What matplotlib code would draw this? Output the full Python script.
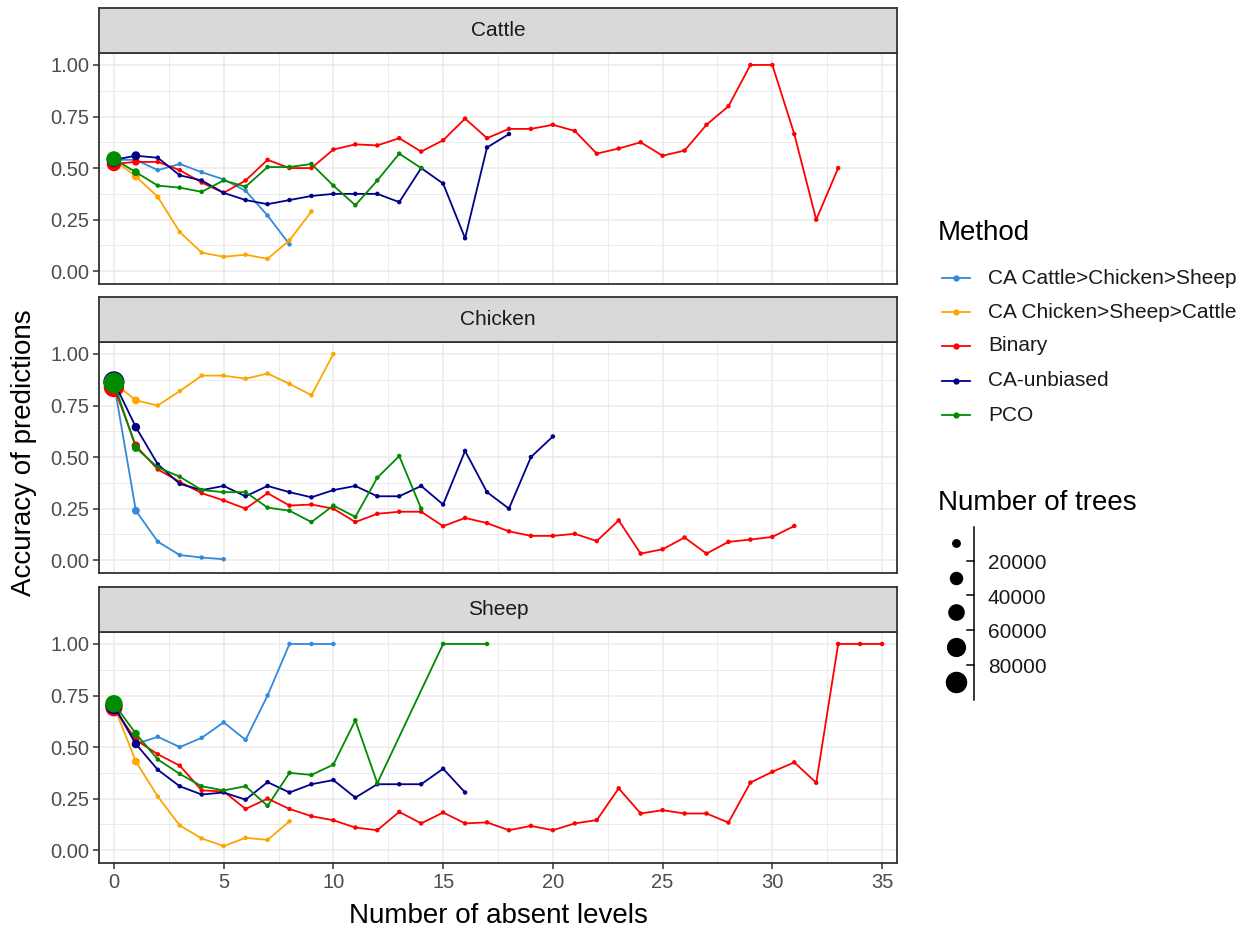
import matplotlib.pyplot as plt
from matplotlib.lines import Line2D
import numpy as np

plt.rcParams['font.family'] = ['Liberation Sans', 'DejaVu Sans']

W, H = 1247, 933

animals = ['Cattle', 'Chicken', 'Sheep']
methods = ['CA Cattle>Chicken>Sheep', 'CA Chicken>Sheep>Cattle', 'Binary', 'CA-unbiased', 'PCO']
colors = ['#3389DB', '#FFA500', '#FF0000', '#00008B', '#008B00']

# accuracy for absent levels 0, 1, 2, ...
cattle_cacs = [0.54, 0.54, 0.49, 0.52, 0.48, 0.445, 0.39, 0.27, 0.13]
cattle_cascs = [0.54, 0.46, 0.36, 0.19, 0.09, 0.07, 0.08, 0.06, 0.15, 0.29]
cattle_binary = [0.52, 0.53, 0.53, 0.49, 0.43, 0.38, 0.44, 0.54, 0.50, 0.50,
                 0.59, 0.615, 0.61, 0.645, 0.58, 0.635, 0.74, 0.645, 0.69, 0.69,
                 0.71, 0.68, 0.57, 0.595, 0.625, 0.56, 0.585, 0.71, 0.80, 1.00,
                 1.00, 0.665, 0.25, 0.50]
cattle_unbiased = [0.54, 0.56, 0.55, 0.465, 0.44, 0.38, 0.345, 0.325, 0.345, 0.365,
                   0.375, 0.375, 0.375, 0.335, 0.50, 0.425, 0.16, 0.60, 0.665]
cattle_pco = [0.545, 0.48, 0.415, 0.405, 0.385, 0.44, 0.41, 0.505, 0.505, 0.52,
              0.415, 0.32, 0.44, 0.57, 0.50]

chicken_cacs = [0.86, 0.24, 0.09, 0.025, 0.013, 0.005]
chicken_cascs = [0.86, 0.775, 0.75, 0.82, 0.895, 0.895, 0.88, 0.905, 0.855, 0.80, 1.00]
chicken_binary = [0.84, 0.555, 0.44, 0.38, 0.325, 0.29, 0.25, 0.325, 0.265, 0.27,
                  0.25, 0.185, 0.225, 0.235, 0.235, 0.165, 0.205, 0.18, 0.14, 0.118,
                  0.118, 0.128, 0.093, 0.193, 0.032, 0.053, 0.11, 0.032, 0.089, 0.10,
                  0.113, 0.166]
chicken_unbiased = [0.865, 0.645, 0.465, 0.37, 0.34, 0.36, 0.31, 0.36, 0.33, 0.305,
                    0.34, 0.36, 0.31, 0.31, 0.36, 0.27, 0.53, 0.33, 0.25, 0.50, 0.60]
chicken_pco = [0.86, 0.545, 0.45, 0.405, 0.34, 0.33, 0.33, 0.255, 0.24, 0.185,
               0.265, 0.21, 0.40, 0.505, 0.25]

sheep_cacs = [0.70, 0.515, 0.55, 0.50, 0.545, 0.62, 0.535, 0.75, 1.00, 1.00, 1.00]
sheep_cascs = [0.70, 0.43, 0.26, 0.12, 0.057, 0.02, 0.06, 0.05, 0.14]
sheep_binary = [0.69, 0.535, 0.465, 0.41, 0.29, 0.285, 0.20, 0.25, 0.20, 0.165,
                0.145, 0.11, 0.097, 0.186, 0.13, 0.183, 0.13, 0.135, 0.097, 0.118,
                0.097, 0.13, 0.146, 0.30, 0.178, 0.194, 0.178, 0.178, 0.134, 0.328,
                0.38, 0.426, 0.327, 1.00, 1.00, 1.00]
sheep_unbiased = [0.70, 0.515, 0.39, 0.31, 0.27, 0.28, 0.245, 0.33, 0.28, 0.32,
                  0.34, 0.255, 0.32, 0.32, 0.32, 0.395, 0.28]
sheep_pco_x = [0, 1, 2, 3, 4, 5, 6, 7, 8, 9, 10, 11, 12, 15, 17]
sheep_pco = [0.71, 0.565, 0.44, 0.37, 0.31, 0.29, 0.31, 0.215, 0.375, 0.365,
             0.415, 0.63, 0.325, 1.00, 1.00]

# number of trees for the first absent levels (later levels have few trees)
cattle_trees = [[36000, 3000], [36000, 8000, 2000], [36000, 6000], [36000, 10000], [40000, 7000]]
chicken_trees = [[82000, 7000], [82000, 7000], [80000, 9000], [86000, 9000], [82000, 8000]]
sheep_trees = [[52000, 3000], [52000, 7000], [52000, 5000], [52000, 9000], [56000, 7000]]
small_trees = 1000

data = {
    'Cattle': [(None, cattle_cacs), (None, cattle_cascs), (None, cattle_binary),
               (None, cattle_unbiased), (None, cattle_pco)],
    'Chicken': [(None, chicken_cacs), (None, chicken_cascs), (None, chicken_binary),
                (None, chicken_unbiased), (None, chicken_pco)],
    'Sheep': [(None, sheep_cacs), (None, sheep_cascs), (None, sheep_binary),
              (None, sheep_unbiased), (sheep_pco_x, sheep_pco)],
}
trees = {'Cattle': cattle_trees, 'Chicken': chicken_trees, 'Sheep': sheep_trees}

size_breaks = [20000, 40000, 60000, 80000]
size_keys = [10000, 30000, 50000, 70000, 90000]


def diam(t):
    # marker diameter in px
    return 2.5 + 20 * np.sqrt(np.asarray(t) / 100000)


def area(t):
    return (diam(t) * 72 / 100) ** 2


def fx(px):
    return px / W


def fy(py):
    return 1 - py / H


fig = plt.figure(figsize=(W / 100, H / 100), dpi=100)

left, right = 99, 897
panels = [(53, 284), (342, 573), (632, 863)]
strip_h = 45

for i, animal in enumerate(animals):
    top, bot = panels[i]
    ax = fig.add_axes([fx(left), fy(bot), fx(right - left), (bot - top) / H])
    sax = fig.add_axes([fx(left), fy(top), fx(right - left), strip_h / H])
    sax.set_facecolor('#D9D9D9')
    sax.set_xticks([])
    sax.set_yticks([])
    for s in sax.spines.values():
        s.set_color('#333333')
        s.set_linewidth(1.3)
    sax.text(0.5, 0.5, animal, ha='center', va='center', fontsize=15,
             color='#1A1A1A', transform=sax.transAxes)

    for j, (xs, ys) in enumerate(data[animal]):
        if xs is None:
            xs = np.arange(len(ys))
        t = list(trees[animal][j]) + [small_trees] * (len(ys) - len(trees[animal][j]))
        ax.plot(xs, ys, color=colors[j], lw=1.3, zorder=3 + j)
        ax.scatter(xs, ys, s=area(t), color=colors[j], edgecolors='none', zorder=3 + j)

    ax.set_xlim(-0.68, 35.68)
    ax.set_ylim(-0.062, 1.058)
    ax.set_yticks([0, 0.25, 0.5, 0.75, 1.0])
    ax.set_yticklabels(['0.00', '0.25', '0.50', '0.75', '1.00'])
    ax.set_yticks(np.arange(0.125, 1.0, 0.25), minor=True)
    ax.set_xticks(np.arange(0, 36, 5))
    ax.set_xticks(np.arange(2.5, 36, 5), minor=True)
    ax.grid(which='major', color='#EBEBEB', lw=1.1, zorder=0)
    ax.grid(which='minor', color='#EBEBEB', lw=0.7, zorder=0)
    ax.set_axisbelow(True)
    ax.tick_params(which='minor', length=0)
    ax.tick_params(which='major', length=4, width=1.1, color='#333333',
                   labelsize=14.5, labelcolor='#4D4D4D', pad=3)
    for s in ax.spines.values():
        s.set_color('#333333')
        s.set_linewidth(1.3)
    if i < 2:
        ax.tick_params(axis='x', which='major', length=0, labelbottom=False)

fig.text(fx(498), fy(916), 'Number of absent levels', ha='center', va='center', fontsize=20)
fig.text(fx(24), fy(453), 'Accuracy of predictions', ha='center', va='center',
         rotation=90, fontsize=20)

# method legend
fig.text(fx(938), fy(233), 'Method', ha='left', va='center', fontsize=20)
entry_y = [278, 312, 346, 381, 415]
for j, m in enumerate(methods):
    y = entry_y[j]
    fig.add_artist(Line2D([fx(942), fx(970)], [fy(y), fy(y)], color=colors[j], lw=1.3,
                          transform=fig.transFigure))
    fig.add_artist(Line2D([fx(956)], [fy(y)], color=colors[j], marker='o', ms=3.5,
                          transform=fig.transFigure))
    fig.text(fx(988), fy(y), m, ha='left', va='center', fontsize=15, color='#1A1A1A')

# size legend
fig.text(fx(938), fy(503), 'Number of trees', ha='left', va='center', fontsize=20)
key_y = [543, 578, 612, 647, 682]
for k, tk in enumerate(size_keys):
    fig.add_artist(Line2D([fx(956)], [fy(key_y[k])], color='black', marker='o',
                          ms=diam(tk) * 0.72, mec='none', transform=fig.transFigure))
fig.add_artist(Line2D([fx(974), fx(974)], [fy(527), fy(700)], color='black', lw=1.1,
                      transform=fig.transFigure))
for k, b in enumerate(size_breaks):
    y = (key_y[k] + key_y[k + 1]) / 2
    fig.add_artist(Line2D([fx(967), fx(974)], [fy(y), fy(y)], color='black', lw=1.1,
                          transform=fig.transFigure))
    fig.text(fx(988), fy(y + 3), str(b), ha='left', va='center', fontsize=15, color='#1A1A1A')

fig.savefig('out.png', dpi=100)
